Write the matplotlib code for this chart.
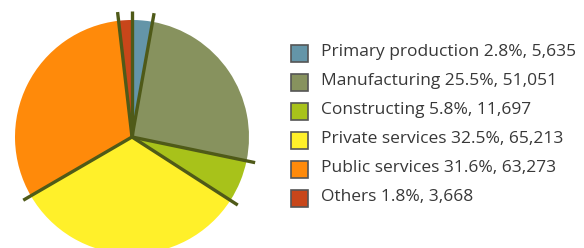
import numpy as np
import matplotlib
matplotlib.use("Agg")
import matplotlib.pyplot as plt
from matplotlib.patches import Rectangle

categories = ["Primary production", "Manufacturing", "Constructing",
              "Private services", "Public services", "Others"]
percents = ["2.8%", "25.5%", "5.8%", "32.5%", "31.6%", "1.8%"]
values = [5635, 51051, 11697, 65213, 63273, 3668]
colors = ["#6495A8", "#87925E", "#A8C21A", "#FFF02A", "#FF8A0A", "#C8461A"]

W, H = 584, 248
fig = plt.figure(figsize=(W / 100, H / 100), dpi=100)
ax = fig.add_axes([0, 0, 1, 1])

cx, cy, R = 132, H - 137, 117
ax.pie(values, colors=colors, startangle=90, counterclock=False,
       center=(cx, cy), radius=R, wedgeprops=dict(linewidth=0), frame=True)

# separator lines at wedge boundaries
total = float(sum(values))
bounds = 90 - 360 * np.concatenate([[0], np.cumsum(values)[:-1]]) / total
L = R * 1.075
for a in bounds:
    t = np.deg2rad(a)
    ax.plot([cx, cx + L * np.cos(t)], [cy, cy + L * np.sin(t)],
            color="#4F5A18", lw=2.4, solid_capstyle="butt", zorder=5)

# legend
font = "Open Sans"
y0, dy = 53, 29
for i, (c, p, v, col) in enumerate(zip(categories, percents, values, colors)):
    yc = H - (y0 + i * dy)
    ax.add_patch(Rectangle((291, yc - 8.5), 17, 17, facecolor=col,
                           edgecolor="#555555", lw=1.2, zorder=5))
    ax.text(321, yc + 1, f"{c} {p}, {v:,}", fontsize=12.5, family=font,
            color="#383838", va="center", ha="left")

ax.set_xlim(0, W)
ax.set_ylim(0, H)
ax.set_aspect("equal")
ax.axis("off")
fig.savefig("out.png", dpi=100)
